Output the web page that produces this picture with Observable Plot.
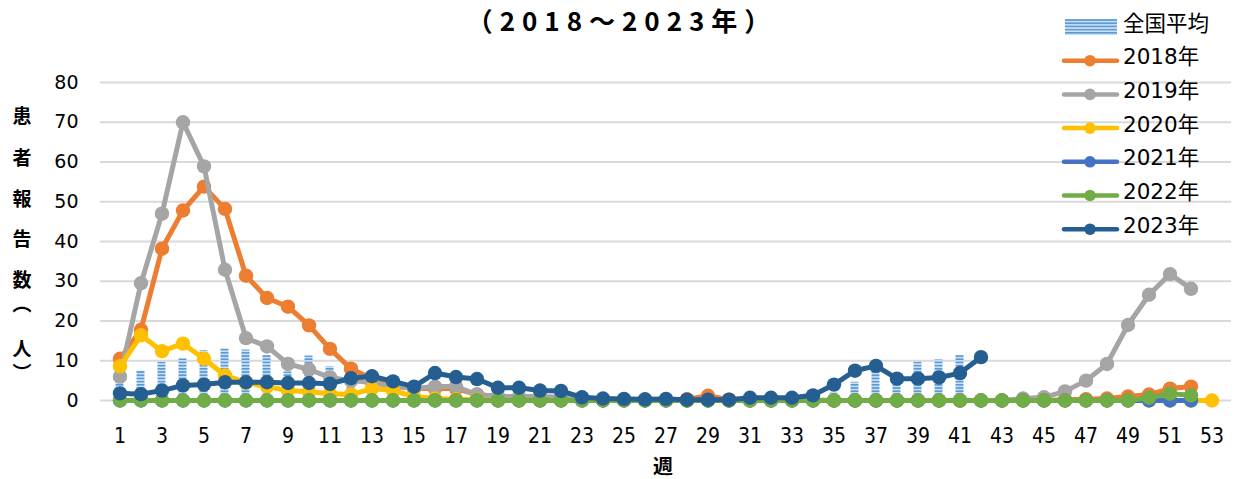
<!DOCTYPE html>
<html><head><meta charset="utf-8">
<script src="https://cdn.jsdelivr.net/npm/d3@7"></script>
<script src="https://cdn.jsdelivr.net/npm/@observablehq/plot@0.6"></script>
<style>body{margin:0;background:#fff} svg{display:block}</style>
</head><body><div id="chart"></div>
<script>
const weeks = [1,2,3,4,5,6,7,8,9,10,11,12,13,14,15,16,17,18,19,20,21,22,23,24,25,26,27,28,29,30,31,32,33,34,35,36,37,38,39,40,41,42,43,44,45,46,47,48,49,50,51,52,53];
const xTickLabels = [1,3,5,7,9,11,13,15,17,19,21,23,25,27,29,31,33,35,37,39,41,43,45,47,49,51,53];
const yTicks = [0,10,20,30,40,50,60,70,80];

const avgName = "全国平均";
const nationalAvg = [5,7.4,9.6,10.5,12.6,13.0,12.7,11.3,7.2,11.2,8.5,4.0,3.0,2.5,2.0,1.6,1.3,1.1,1.0,0.9,0.8,0.7,0.6,0.5,0.5,0.4,0.4,0.4,0.4,0.4,0.5,0.5,0.6,1.0,2.0,4.6,7.5,5.0,9.6,10.2,11.3];

const y2018 = [10.5,17.8,38.2,47.8,53.8,48.2,31.4,25.8,23.6,18.9,13.0,8.0,5.5,4.5,3.0,3.0,3.0,1.5,1.0,0.8,0.6,0.5,0.3,0.2,0.2,0.1,0.2,0.3,1.2,0.2,0.1,0.1,0.1,0.1,0,0,0,0,0,0,0,0,0,0,0,0.2,0.3,0.5,1.0,1.5,3.0,3.5];
const y2019 = [6.0,29.5,47.0,70.0,58.9,32.9,15.7,13.6,9.2,7.8,5.8,5.0,4.5,3.5,3.0,3.5,3.5,1.5,1.0,1.0,1.0,0.8,0.5,0.3,0.2,0.1,0.1,0,0,0,0,0,0,0,0,0,0,0,0,0,0,0,0,0.5,0.8,2.3,5.0,9.2,19.0,26.6,31.8,28.1];
const y2020 = [8.6,16.4,12.4,14.3,10.5,6.3,4.5,3.5,2.5,2.2,1.7,1.5,3.0,2.5,1.0,0.5,0.3,0.2,0,0,0,0,0,0,0,0,0,0,0,0,0,0,0,0,0,0,0,0,0,0,0,0,0,0,0,0,0,0,0,0,0,0,0];
const y2021 = [0,0,0,0,0,0,0,0,0,0,0,0,0,0,0,0,0,0,0,0,0,0,0,0,0,0,0,0,0,0,0,0,0,0,0,0,0,0,0,0,0,0,0,0,0,0,0,0,0,0,0,0];
const y2022 = [0,0,0,0,0,0,0,0,0,0,0,0,0,0,0,0,0,0,0,0,0,0,0,0,0,0,0,0,0,0,0,0,0,0,0,0,0,0,0,0,0,0,0,0,0,0,0,0,0,0.7,1.7,1.3];
const y2023 = [1.8,1.6,2.5,3.8,4.0,4.6,4.6,4.6,4.4,4.4,4.2,5.6,6.1,4.8,3.5,6.9,5.9,5.4,3.2,3.2,2.5,2.4,0.8,0.5,0.4,0.3,0.4,0.2,0.2,0.2,0.7,0.7,0.7,1.3,4.0,7.5,8.7,5.5,5.5,5.8,6.9,10.9];

const seriesNames = ["2018年","2019年","2020年","2021年","2022年","2023年"];
const seriesValues = [y2018,y2019,y2020,y2021,y2022,y2023];
const seriesColors = ["#ED7D31","#A5A5A5","#FFC000","#4472C4","#70AD47","#255E91"];

const titleText = "（2018～2023年）";
const yLabelText = "患者報告数（人）";
const xLabelText = "週";

const avgData = nationalAvg.map((v,i)=>({week: weeks[i], value: v}));
const series = seriesNames.map((name,k)=>({
  name, color: seriesColors[k],
  data: seriesValues[k].map((v,i)=>({week: weeks[i], value: v}))
}));

const numFont = "'DejaVu Sans', 'Noto Sans CJK JP', sans-serif";
const marks = [
  Plot.ruleY(yTicks, {stroke:"#D9D9D9", strokeWidth:2}),
  Plot.barY(avgData, {x:"week", y:"value", fill:"url(#stripes)", insetLeft:6.5, insetRight:6.5})
];
series.forEach(s=>{
  marks.push(Plot.line(s.data, {x:"week", y:"value", stroke:s.color, strokeWidth:5}));
  marks.push(Plot.dot(s.data, {x:"week", y:"value", fill:s.color, r:7.2}));
});
marks.push(Plot.axisX(xTickLabels, {tickSize:0, tickPadding:28, fontSize:21, fontFamily:"'Liberation Sans Narrow', 'DejaVu Sans Condensed', sans-serif", label:null}));
marks.push(Plot.axisY(yTicks, {tickSize:0, tickPadding:22, fontSize:19, fontFamily:numFont, label:null}));

const svg = Plot.plot({
  width:1236, height:479,
  marginTop:82, marginBottom:79, marginLeft:100, marginRight:5,
  style:{background:"#fff", color:"#000"},
  x:{type:"band", domain:weeks, padding:0},
  y:{domain:[0,80]},
  marks
});
document.getElementById("chart").appendChild(svg);

const s = d3.select(svg);
const defs = s.insert("defs", ":first-child");
const pat = defs.append("pattern").attr("id","stripes").attr("patternUnits","userSpaceOnUse")
  .attr("width",8).attr("height",3.2);
pat.append("rect").attr("width",8).attr("height",3.2).attr("fill","#CFE2F5");
pat.append("rect").attr("width",8).attr("height",1.7).attr("fill","#5B9BD5");

s.append("text").attr("x",622).attr("y",19).attr("text-anchor","middle").attr("dominant-baseline","central")
  .attr("font-family","'Noto Sans CJK JP', sans-serif").attr("font-weight","bold").attr("font-size",26)
  .attr("letter-spacing",7).attr("fill","#000").text(titleText);

s.append("text").attr("x",22).attr("y","116 158 199 239 280 304 349 373")
  .attr("writing-mode","vertical-rl")
  .attr("font-family","'Noto Sans CJK JP', sans-serif").attr("font-weight","bold").attr("font-size",19)
  .attr("fill","#000").text(yLabelText);

s.append("text").attr("x",663).attr("y",465).attr("text-anchor","middle").attr("dominant-baseline","central")
  .attr("font-family","'Noto Sans CJK JP', sans-serif").attr("font-weight","bold").attr("font-size",20)
  .attr("fill","#000").text(xLabelText);

// legend
const lg = s.append("g").attr("font-family","'DejaVu Sans', 'Noto Sans CJK JP', sans-serif").attr("font-size",21.5)
  .attr("text-anchor","start").attr("fill","#000");
const rowY0 = 27, rowStep = 33.7;
lg.append("rect").attr("x",1065).attr("y",rowY0-8).attr("width",52).attr("height",16).attr("fill","url(#stripes)");
lg.append("text").attr("x",1123).attr("y",rowY0-4).attr("dominant-baseline","central").text(avgName);
series.forEach((sr,k)=>{
  const yy = rowY0 + rowStep*(k+1);
  lg.append("line").attr("x1",1064).attr("x2",1117).attr("y1",yy).attr("y2",yy).attr("stroke",sr.color).attr("stroke-width",4.5).attr("stroke-linecap","round");
  lg.append("circle").attr("cx",1090).attr("cy",yy).attr("r",5.8).attr("fill",sr.color);
  lg.append("text").attr("x",1123).attr("y",yy-4).attr("dominant-baseline","central").text(sr.name);
});
</script></body></html>
